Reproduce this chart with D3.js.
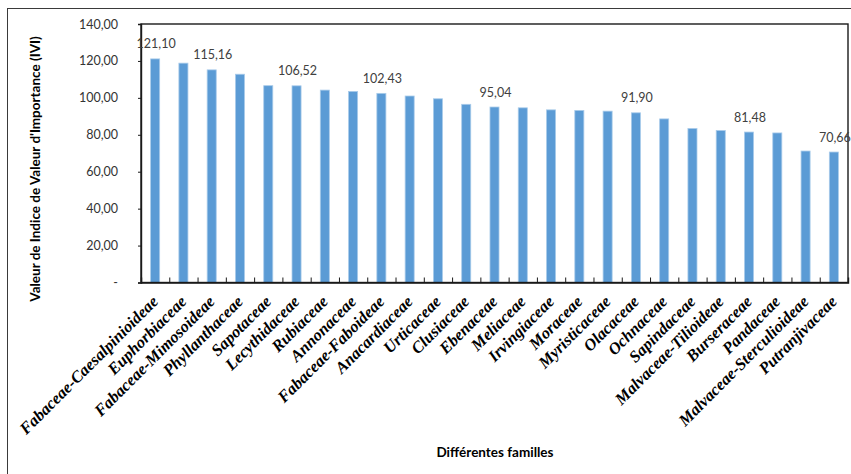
<!DOCTYPE html>
<html>
<head>
<meta charset="utf-8">
<script src="https://cdn.jsdelivr.net/npm/d3@7"></script>
<style>
  html, body { margin: 0; padding: 0; background: #fff; }
  svg { display: block; }
</style>
</head>
<body>
<script>
const categories = [
  "Fabaceae-Caesalpinioideae", "Euphorbiaceae", "Fabaceae-Mimosoideae", "Phyllanthaceae",
  "Sapotaceae", "Lecythidaceae", "Rubiaceae", "Annonaceae", "Fabaceae-Faboideae",
  "Anacardiaceae", "Urticaceae", "Clusiaceae", "Ebenaceae", "Meliaceae", "Irvingiaceae",
  "Moraceae", "Myristicaceae", "Olacaceae", "Ochnaceae", "Sapindaceae",
  "Malvaceae-Tilioideae", "Burseraceae", "Pandaceae", "Malvaceae-Sterculioideae", "Putranjivaceae"
];
const values = [
  121.10, 118.8, 115.16, 112.8, 106.6, 106.52, 104.2, 103.5, 102.43, 101.0,
  99.5, 96.5, 95.04, 94.6, 93.5, 93.2, 92.8, 91.90, 88.6, 83.4,
  82.3, 81.48, 81.0, 71.2, 70.66
];
const labelledCategories = [
  "Fabaceae-Caesalpinioideae", "Fabaceae-Mimosoideae", "Lecythidaceae", "Fabaceae-Faboideae",
  "Ebenaceae", "Olacaceae", "Burseraceae", "Putranjivaceae"
];
const yTicks = [0, 20, 40, 60, 80, 100, 120, 140];
const yTitle = "Valeur de Indice de Valeur d'Importance (IVI)";
const xTitle = "Différentes familles";

const data = categories.map((c, i) => ({ cat: c, value: values[i] }));

const W = 851, H = 474;
const m = { left: 141, right: 3, top: 24, bottom: 191.5 };
const svg = d3.select("body").append("svg").attr("width", W).attr("height", H);

// outer frame
svg.append("rect").attr("x", 7.5).attr("y", 8.5).attr("width", 900).attr("height", 600)
  .attr("fill", "none").attr("stroke", "#3a3a3a").attr("stroke-width", 1);

const x0 = m.left, x1 = W - m.right, y0 = H - m.bottom, y1 = m.top;
const x = d3.scaleBand().domain(categories).range([x0, x1]).paddingInner(0.68).paddingOuter(0.34);
const y = d3.scaleLinear().domain([0, 140]).range([y0, y1]);

const fmt = v => v === 0 ? "-" : d3.format(".2f")(v).replace(".", ",");

// bars
svg.append("g").selectAll("rect").data(data).join("rect")
  .attr("x", d => x(d.cat))
  .attr("y", d => y(d.value))
  .attr("width", x.bandwidth())
  .attr("height", d => y(0) - y(d.value))
  .attr("fill", "#5B9BD5")
  .attr("stroke", "#A9CBEA")
  .attr("stroke-width", 0.8);

// plot border
svg.append("rect").attr("x", x0).attr("y", y1).attr("width", x1 - x0).attr("height", y0 - y1)
  .attr("fill", "none").attr("stroke", "#1a1a1a").attr("stroke-width", 1.4);

// y axis
const yAxis = svg.append("g").attr("transform", `translate(${x0},0)`)
  .call(d3.axisLeft(y).tickValues(yTicks).tickSize(3).tickPadding(20).tickFormat(fmt));
yAxis.select(".domain").attr("stroke", "#1a1a1a").attr("stroke-width", 1.4);
yAxis.selectAll(".tick line").attr("stroke", "#1a1a1a");
yAxis.selectAll("text").attr("font-family", "Lato, 'Open Sans', sans-serif")
  .attr("font-size", 12.5).attr("fill", "#333");

// x axis tick marks between categories (pointing inward)
const bounds = d3.scaleLinear().domain([0, categories.length]).range([x0, x1]);
const xAxis = svg.append("g").attr("transform", `translate(0,${y0})`)
  .call(d3.axisBottom(bounds).tickValues(d3.range(1, categories.length)).tickSize(-5).tickFormat(""));
xAxis.select(".domain").attr("stroke", "#1a1a1a").attr("stroke-width", 1.4);
xAxis.selectAll(".tick line").attr("stroke", "#1a1a1a");

// category labels
svg.append("g").selectAll("text").data(categories).join("text")
  .attr("transform", c => `translate(${x(c) + x.bandwidth() / 2 + 4},${y0 + 20}) rotate(-45)`)
  .attr("text-anchor", "end")
  .attr("font-family", "'Liberation Serif', 'Times New Roman', serif")
  .attr("font-weight", "bold").attr("font-style", "italic")
  .attr("font-size", 16.5).attr("fill", "#000")
  .text(c => c);

// data labels
svg.append("g").selectAll("text").data(data.filter(d => labelledCategories.includes(d.cat))).join("text")
  .attr("x", d => x(d.cat) + x.bandwidth() / 2 + 1)
  .attr("y", d => y(d.value) - 10.5)
  .attr("text-anchor", "middle")
  .attr("font-family", "Lato, 'Open Sans', sans-serif")
  .attr("font-size", 12.5).attr("fill", "#404040")
  .text(d => fmt(d.value));

// axis titles
svg.append("text")
  .attr("transform", `translate(40,169) rotate(-90)`)
  .attr("text-anchor", "middle")
  .attr("font-family", "Lato, 'Open Sans', sans-serif")
  .attr("font-weight", "bold").attr("font-size", 13.5).attr("fill", "#000")
  .text(yTitle);

svg.append("text")
  .attr("x", 495).attr("y", 457)
  .attr("text-anchor", "middle")
  .attr("font-family", "Lato, 'Open Sans', sans-serif")
  .attr("font-weight", "bold").attr("font-size", 13.5).attr("fill", "#000")
  .text(xTitle);
</script>
</body>
</html>
